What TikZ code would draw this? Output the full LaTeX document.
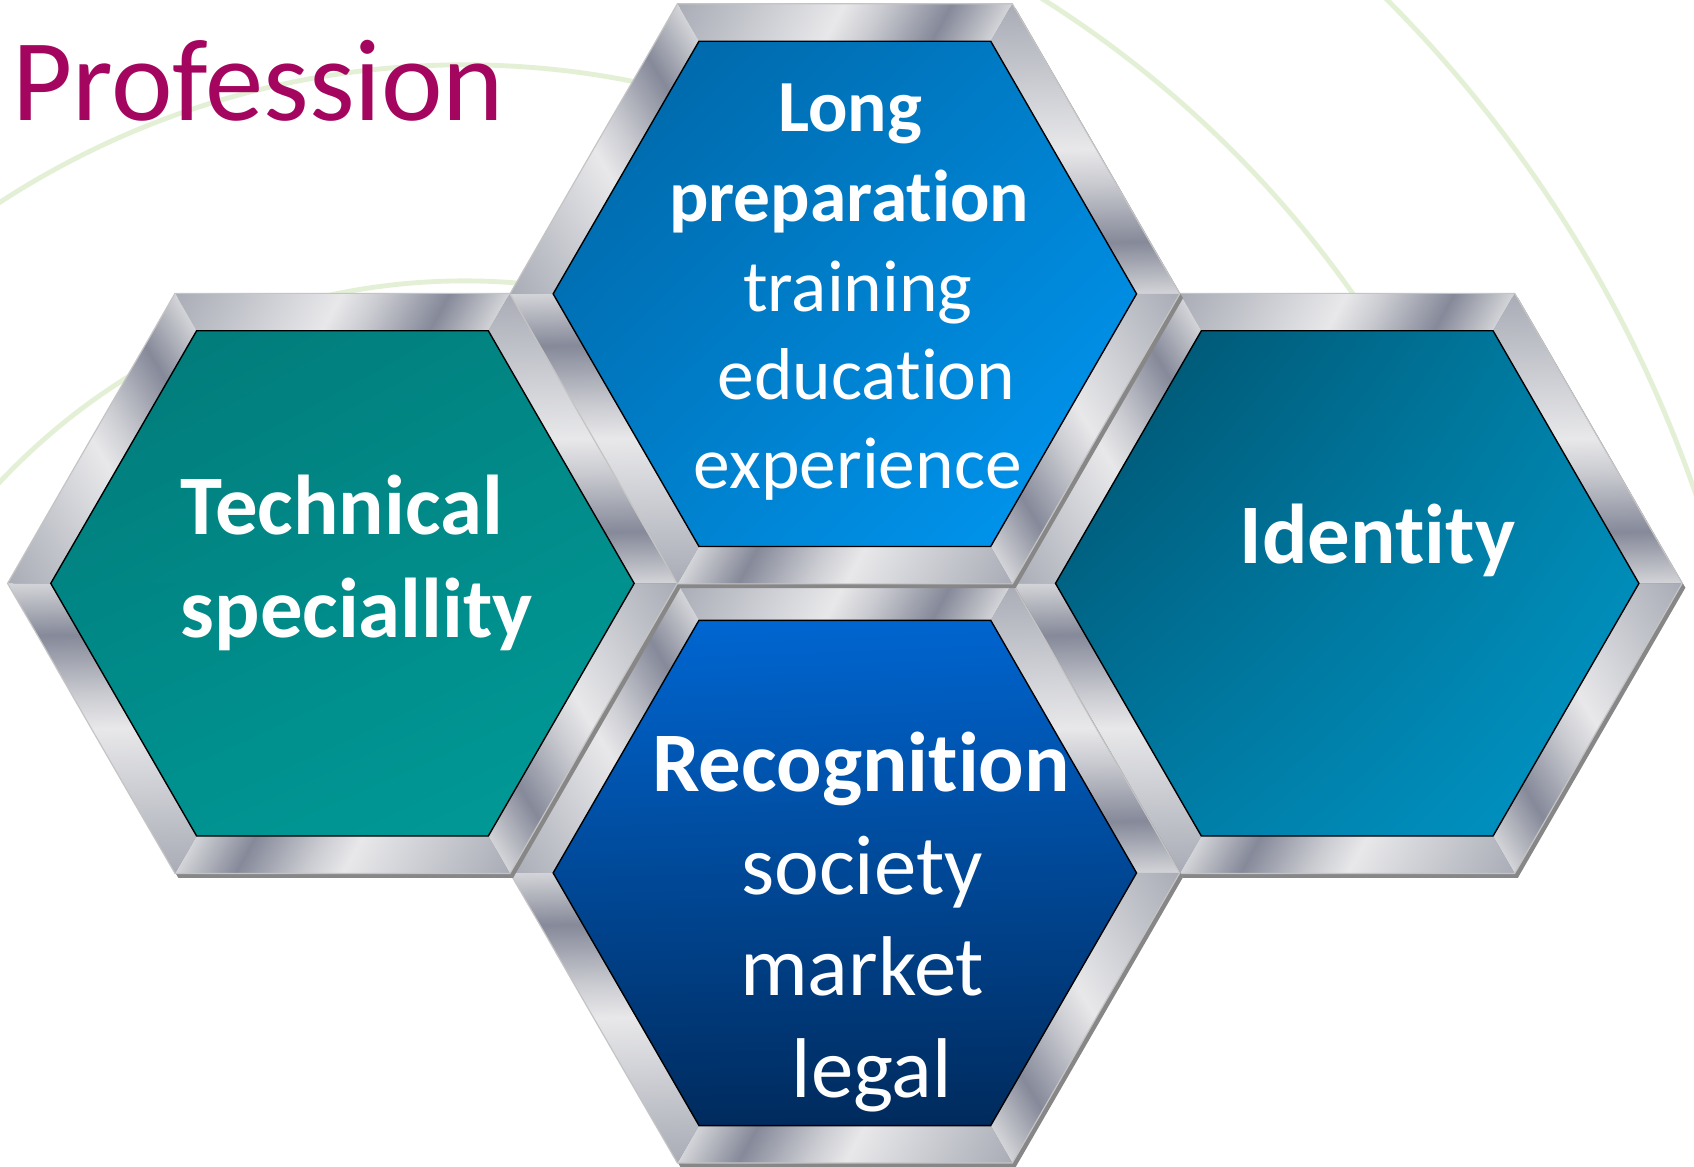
\documentclass[tikz,border=0pt]{standalone}
\usepackage{fontspec}
\setmainfont{Carlito}[Ligatures={NoCommon,NoContextual}]
\usetikzlibrary{shadings}

% metal frame palette (along each side, clockwise)
\definecolor{mA}{HTML}{A9ACB6}
\definecolor{mB}{HTML}{C1C3CA}
\definecolor{mC}{HTML}{E8E8EA}
\definecolor{mD}{HTML}{C9CAD0}
\definecolor{mE}{HTML}{858999}
\definecolor{mF}{HTML}{B1B3BC}
\definecolor{mG}{HTML}{D4D5D9}
\definecolor{shadowgray}{HTML}{878787}
\definecolor{rimgray}{HTML}{C4C4C4}
\definecolor{arcgreen}{HTML}{E4F0D6}
\definecolor{titlepurple}{HTML}{A4065F}
% face colours
\definecolor{tUL}{HTML}{0063A3}\definecolor{tUR}{HTML}{0080CC}
\definecolor{tLL}{HTML}{007DC6}\definecolor{tLR}{HTML}{0099F7}
\definecolor{lUL}{HTML}{017978}\definecolor{lUR}{HTML}{018785}
\definecolor{lLL}{HTML}{00908E}\definecolor{lLR}{HTML}{009B98}
\definecolor{rUL}{HTML}{004E69}\definecolor{rUR}{HTML}{0082AA}
\definecolor{rLL}{HTML}{00789F}\definecolor{rLR}{HTML}{0097C8}
\definecolor{bUL}{HTML}{0067D3}\definecolor{bUR}{HTML}{0064CE}
\definecolor{bLL}{HTML}{002B5E}\definecolor{bLR}{HTML}{002A5C}

\pgfdeclarehorizontalshading{metalbar}{100bp}{color(0bp)=(mA); color(25bp)=(mA);
  color(35bp)=(mB); color(50bp)=(mC); color(56bp)=(mD); color(66bp)=(mE);
  color(71bp)=(mF); color(75bp)=(mG); color(100bp)=(mG)}

\newcommand\Ro{310}   % outer radius of a frame
\newcommand\Ri{270}   % inner radius (coloured face)
\newcommand\hw{20}    % half the radial difference
\newcommand\hh{34.64} % frame band thickness

\newcommand\hexpath[1]{(0:#1) -- (60:#1) -- (120:#1) -- (180:#1) -- (240:#1) -- (300:#1) -- cycle}

% #1,#2 centre; #3..#6 face corner colours
\newcommand\metalhex[6]{%
  \fill[shadowgray, shift={(#1+3,#2-4)}] \hexpath{\Ro};
  \foreach \a in {120,60,0,-60,-120,-180} {
    \begin{scope}[transform canvas={shift={(#1,#2)}, shift={(\a:\Ro)}, rotate=\a-120}]
      \clip (0,0) -- (\Ro,0) -- (\Ro-\hw,-\hh) -- (\hw,-\hh) -- cycle;
      \begin{scope}[transform canvas={xslant=0.55}]
        \shade[shading=metalbar] (0,-\hh-1) rectangle (\Ro,1);
      \end{scope}
    \end{scope}
  }
  \draw[rimgray, line width=1.1, shift={(#1,#2)}] \hexpath{\Ro};
  \shadedraw[upper left=#3, upper right=#4, lower left=#5, lower right=#6,
    draw=black, line width=1.3, shift={(#1,#2)}] \hexpath{\Ri};
}

\newcommand\fbig{\fontsize{78.5}{95}\selectfont}
\newcommand\fmid{\fontsize{68}{83}\selectfont}

\tikzset{
  label/.style={text=white, inner sep=0pt, anchor=base},
  labelleft/.style={text=white, inner sep=0pt, anchor=base west},
  title/.style={text=titlepurple, inner sep=0pt, anchor=base west,
    font=\fontsize{108}{120}\selectfont},
  bgarc/.style={arcgreen, line width=4.5}
}

\begin{document}
\begin{tikzpicture}[x=1pt,y=1pt]
\useasboundingbox (0,0) rectangle (1568,1080);
\fill[white] (0,0) rectangle (1568,1080);

% faint concentric arcs in the background
\begin{scope}
  \clip (0,470) rectangle (1568,1080);
  \coordinate (arcc) at (430,230);
  \foreach \r in {590,790,1005,1205}
    \draw[bgarc] (arcc) circle[radius=\r];
\end{scope}

\node[title] (title) at (11,968) {Profession};

% hexagon centres
\coordinate (cR) at (1247,540);
\coordinate (cB) at (782,272);
\coordinate (cL) at (317,540);
\coordinate (cT) at (782,808);

\metalhex{1247}{540}{rUL}{rUR}{rLL}{rLR}
\metalhex{782}{272}{bUL}{bUR}{bLL}{bLR}
\metalhex{317}{540}{lUL}{lUR}{lLL}{lLR}
\metalhex{782}{808}{tUL}{tUR}{tLL}{tLR}

% Long preparation
\node[label, font=\fmid\bfseries] (tp1) at (787,958) {Long};
\node[label, font=\fmid\bfseries] (tp2) at (786,875) {preparation};
\node[label, font=\fmid] (tp3) at (794,792) {training};
\node[label, font=\fmid] (tp4) at (802,710) {education};
\node[label, font=\fmid] (tp5) at (794,628) {experience};

% Technical speciallity
\node[labelleft, font=\fbig\bfseries] (ts1) at (167,585) {Technical};
\node[labelleft, font=\fbig\bfseries] (ts2) at (167,490) {speciallity};

% Identity
\node[label, font=\fbig\bfseries] (id1) at (1275,558) {Identity};

% Recognition
\node[label, font=\fbig\bfseries] (rc1) at (797,347) {Recognition};
\node[label, font=\fbig] (rc2) at (798,252) {society};
\node[label, font=\fbig] (rc3) at (798,159) {market};
\node[label, font=\fbig] (rc4) at (807,64) {legal};
\end{tikzpicture}
\end{document}
